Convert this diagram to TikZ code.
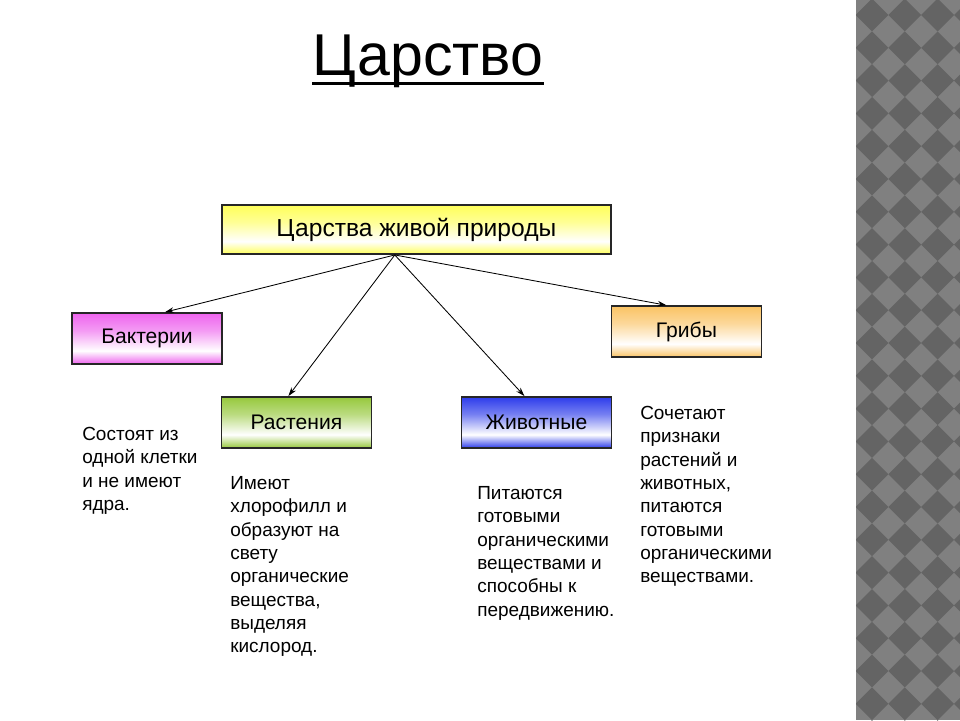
\documentclass[tikz,border=0pt]{standalone}
\usepackage{fontspec}
\setmainfont{Liberation Sans}
\usetikzlibrary{arrows.meta}
\definecolor{kyellow}{RGB}{255,255,90}
\definecolor{kpink}{RGB}{238,100,238}
\definecolor{kgreen}{RGB}{150,200,60}
\definecolor{kblue}{RGB}{45,60,235}
\definecolor{korange}{RGB}{250,195,100}
\definecolor{stripbg}{RGB}{128,128,128}
\definecolor{stripdk}{RGB}{100,100,100}
\colorlet{kcol}{white}
\pgfdeclareverticalshading[kcol]{kshade}{100bp}{color(0bp)=(kcol); color(25bp)=(kcol); color(38bp)=(white); color(58bp)=(kcol!65); color(75bp)=(kcol); color(100bp)=(kcol)}
\tikzset{
  kbox/.style={draw=black!85, line width=1.2pt, shading=kshade, /utils/exec={\colorlet{kcol}{#1}},
    minimum width=3.75cm, minimum height=1.275cm, inner sep=0pt, font=\fontsize{15}{18}\selectfont},
  desc/.style={anchor=north west, inner sep=0pt, align=left, font=\fontsize{13.5}{16.6}\selectfont},
  link/.style={-{Stealth[length=2.2mm,width=1.4mm]}, line width=0.6pt}
}
\begin{document}
\begin{tikzpicture}
\useasboundingbox (0,0) rectangle (24,-18);
\fill[white] (0,0) rectangle (24,-18);
% checkered strip on the right
\fill[stripbg] (21.4,0) rectangle (24,-18);
\begin{scope}
\clip (21.4,0) rectangle (24,-18);
\foreach \i in {0,...,3}
\foreach \j in {0,...,22}
\fill[stripdk] ({21.8+0.82*\i},{-0.375-0.82*\j}) +(-0.41,0) -- +(0,0.41) -- +(0.41,0) -- +(0,-0.41) -- cycle;
\end{scope}
% title
\node[anchor=base, inner sep=0pt, font=\fontsize{42}{50}\selectfont] (title) at (10.7,-1.875) {Царство};
\draw[line width=2.4pt] ([yshift=-0.22cm]title.base west) -- ([yshift=-0.22cm]title.base east);
% boxes
\node[kbox=kyellow, minimum width=9.725cm, minimum height=1.225cm, font=\fontsize{17.5}{20}\selectfont] (top) at (10.41,-5.74) {Царства живой природы};
\node[kbox=kpink] (bact) at (3.675,-8.4625) {Бактерии};
\node[kbox=korange] (grib) at (17.16,-8.29) {Грибы};
\node[kbox=kgreen] (rast) at (7.41,-10.56) {Растения};
\node[kbox=kblue] (zhiv) at (13.41,-10.56) {Животные};
% arrows
\coordinate (hub) at ([xshift=-0.54cm]top.south);
\draw[link] (hub) -- ([xshift=0.45cm]bact.north);
\draw[link] (hub) -- ([xshift=-0.2cm]rast.north);
\draw[link] (hub) -- ([xshift=-0.3cm]zhiv.north);
\draw[link] (hub) -- ([xshift=-0.5cm]grib.north);
% texts
\node[desc] (bactdesc) at (2.05,-10.675) {Состоят из\\одной клетки\\и не имеют\\ядра.};
\node[desc] (rastdesc) at (5.75,-11.9) {Имеют\\хлорофилл и\\образуют на\\свету\\органические\\вещества,\\выделяя\\кислород.};
\node[desc] (zhivdesc) at (11.925,-12.15) {Питаются\\готовыми\\органическими\\веществами и\\способны к\\передвижению.};
\node[desc] (gribdesc) at (16.0,-10.15) {Сочетают\\признаки\\растений и\\животных,\\питаются\\готовыми\\органическими\\веществами.};
\end{tikzpicture}
\end{document}
